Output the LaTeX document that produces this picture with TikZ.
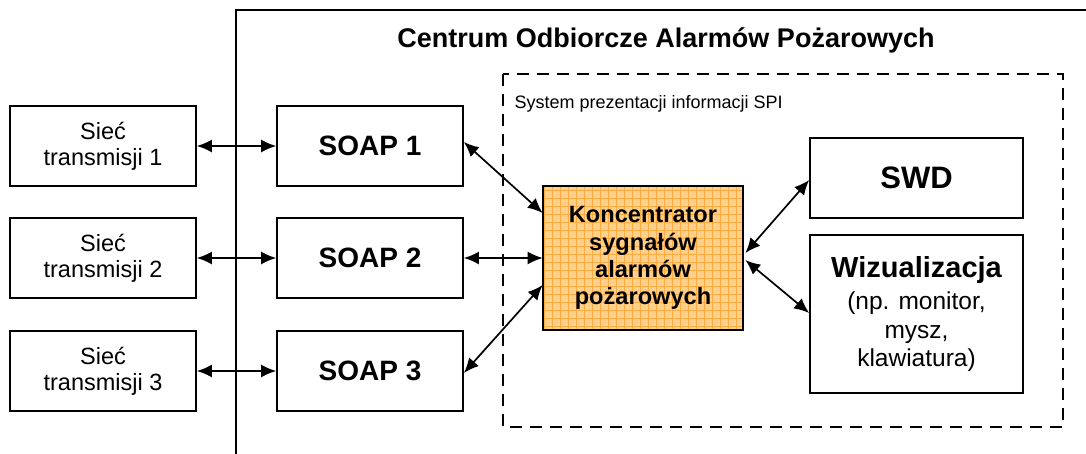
\documentclass[tikz,border=0pt]{standalone}
\usepackage{fontspec}
\setmainfont{Liberation Sans}
\usetikzlibrary{arrows.meta,patterns.meta}
\definecolor{konfill}{RGB}{255,208,140}
\definecolor{kongrid}{RGB}{252,172,64}
\begin{document}
\begin{tikzpicture}[x=1pt,y=-1pt,
  box/.style={draw,line width=1.7pt,inner sep=0pt,align=center},
  net/.style={box,minimum width=186pt,minimum height=80pt,font=\fontsize{23.5}{26}\selectfont},
  soap/.style={box,minimum width=186pt,minimum height=80pt,font=\fontsize{28}{30}\selectfont\bfseries},
  link/.style={line width=1.7pt,{Latex[length=15pt,width=13pt]}-{Latex[length=15pt,width=13pt]}}
]
\useasboundingbox (0,0) rectangle (1086,454);
% outer centre frame
\draw[line width=1.7pt] (236,454) -- (236,10) -- (1090,10);
\node[font=\fontsize{27}{30}\selectfont\bfseries] (title) at (666,40) {Centrum Odbiorcze Alarmów Pożarowych};
% SPI dashed box
\draw[line width=2pt,dash pattern=on 12pt off 8pt] (503,74) rectangle (1063,427);
\node[anchor=west,font=\fontsize{18}{22}\selectfont] (spi) at (511,104) {System prezentacji informacji SPI};
% networks
\node[net] (n1) at (103,146) {Sieć\\transmisji 1};
\node[net] (n2) at (103,258) {Sieć\\transmisji 2};
\node[net] (n3) at (103,371) {Sieć\\transmisji 3};
% SOAP
\node[soap] (s1) at (370,146) {SOAP 1};
\node[soap] (s2) at (370,258) {SOAP 2};
\node[soap] (s3) at (370,371) {SOAP 3};
% concentrator
\node[box,minimum width=200pt,minimum height=144pt,
  preaction={fill=konfill},
  pattern={Hatch[angle=0,distance=8pt,line width=0.7pt]},pattern color=kongrid,
  font=\fontsize{23.6}{27.3}\selectfont\bfseries] (k) at (643,258)
  {Koncentrator\\sygnałów\\alarmów\\pożarowych};
\node[box,minimum width=213pt,minimum height=80pt,font=\fontsize{31}{32}\selectfont\bfseries] (swd) at (916.5,178) {SWD};
\node[box,minimum width=213pt,minimum height=158pt,font=\fontsize{24.5}{28.5}\selectfont] (wiz) at (916.5,314)
  {{\fontsize{29}{30}\selectfont\bfseries Wizualizacja}\\[4pt](np. monitor,\\mysz,\\klawiatura)};
% connectors
\draw[link] (n1.east) -- (s1.west);
\draw[link] (n2.east) -- (s2.west);
\draw[link] (n3.east) -- (s3.west);
\draw[link] ([yshift=4pt]s1.east) -- ([yshift=45pt]k.west);
\draw[link] (s2.east) -- (k.west);
\draw[link] ([yshift=-2pt]s3.east) -- ([yshift=-27pt]k.west);
\draw[link] ([xshift=2pt,yshift=5pt]k.east) -- ([yshift=-2pt]swd.west);
\draw[link] ([xshift=2pt,yshift=-2pt]k.east) -- ([yshift=1pt]wiz.west);
\end{tikzpicture}
\end{document}
